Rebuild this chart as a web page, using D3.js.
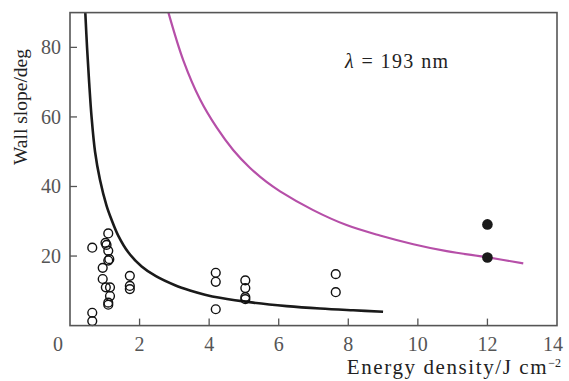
<!DOCTYPE html>
<meta charset="utf-8">
<style>
  body { margin: 0; background: #fff; }
  text { font-family: "Liberation Serif", "DejaVu Serif", serif; }
</style>

<!-- Load d3.js -->
<script src="https://d3js.org/d3.v7.min.js"></script>

<div id="my_dataviz"></div>
<script>

// open circles: energy density (J cm-2) and wall slope (deg)
var openEnergy = [0.64, 0.64, 0.64, 1.10, 1.02, 1.05, 1.10, 1.13, 1.10, 0.94, 0.94, 1.03, 1.15, 1.15, 1.10, 1.10,
                  1.72, 1.72, 1.72, 4.19, 4.19, 4.19, 5.04, 5.04, 5.04, 5.04, 7.64, 7.64];
var openSlope  = [22.4, 3.7, 1.3, 26.5, 23.8, 23.2, 21.5, 19.1, 18.7, 16.6, 13.4, 11.0, 11.0, 8.5, 6.6, 6.0,
                  14.3, 11.4, 10.5, 15.2, 12.6, 4.7, 13.0, 10.8, 8.2, 7.6, 14.8, 9.6];

// filled circles
var filledEnergy = [12, 12];
var filledSlope  = [29.1, 19.6];

// black curve
var blackEnergy = [0.44, 0.49, 0.55, 0.62, 0.72, 0.86, 1.05, 1.20, 1.39, 1.68, 2.06, 2.47, 3.02, 3.45, 3.88, 4.31, 5.27, 6.23, 7.19, 8.14, 9.0];
var blackSlope  = [90, 80, 70, 60, 50, 42, 34.5, 30.3, 25.8, 21.0, 17.0, 14.2, 11.6, 10.1, 8.9, 8.0, 6.6, 5.6, 4.9, 4.4, 4.0];

// magenta curve
var magentaEnergy = [2.83, 3.26, 3.74, 4.22, 4.69, 5.17, 5.65, 6.04, 6.99, 7.95, 8.91, 9.87, 10.83, 12.02, 13.03];
var magentaSlope  = [90, 76.2, 65.0, 56.9, 50.5, 45.4, 41.3, 38.6, 33.2, 28.9, 25.9, 23.4, 21.4, 19.6, 17.9];

var xTicks = [0, 2, 4, 6, 8, 10, 12, 14];
var yTicks = [20, 40, 60, 80];

var width = 569, height = 381;
var plotLeft = 70, plotRight = 557, plotTop = 12.6, plotBottom = 325.6;

var svg = d3.select("#my_dataviz")
  .append("svg")
    .attr("width", width)
    .attr("height", height);

var x = d3.scaleLinear().domain([0, 14]).range([plotLeft, plotRight]);
var y = d3.scaleLinear().domain([0, 90]).range([plotBottom, plotTop]);

var axisColor = "#555";

// ticks pointing inward
svg.selectAll("xt")
  .data(xTicks.filter(function(d){ return d > 0 && d < 14 }))
  .enter()
  .append("line")
    .attr("x1", function(d){ return x(d) })
    .attr("x2", function(d){ return x(d) })
    .attr("y1", plotBottom)
    .attr("y2", plotBottom - 7)
    .attr("stroke", axisColor)
    .attr("stroke-width", 1.3);

svg.selectAll("yt")
  .data(yTicks)
  .enter()
  .append("line")
    .attr("x1", plotLeft)
    .attr("x2", plotLeft + 7)
    .attr("y1", function(d){ return y(d) })
    .attr("y2", function(d){ return y(d) })
    .attr("stroke", axisColor)
    .attr("stroke-width", 1.3);

// tick labels
svg.selectAll("xl")
  .data(xTicks)
  .enter()
  .append("text")
    .attr("x", function(d){ return x(d) + (d == 0 ? -12 : (d == 14 ? -4 : 0)) })
    .attr("y", 351)
    .attr("text-anchor", "middle")
    .attr("font-size", "20px")
    .attr("fill", axisColor)
    .text(function(d){ return d });

svg.selectAll("yl")
  .data(yTicks)
  .enter()
  .append("text")
    .attr("x", 61)
    .attr("y", function(d){ return y(d) + 7 })
    .attr("text-anchor", "end")
    .attr("font-size", "20px")
    .attr("fill", axisColor)
    .text(function(d){ return d });

// curves
var line = d3.line()
  .x(function(d){ return x(d[0]) })
  .y(function(d){ return y(d[1]) })
  .curve(d3.curveCatmullRom.alpha(0.5));

svg.append("path")
  .datum(d3.zip(blackEnergy, blackSlope))
  .attr("d", line)
  .attr("fill", "none")
  .attr("stroke", "#1a1a1a")
  .attr("stroke-width", 2.6);

svg.append("path")
  .datum(d3.zip(magentaEnergy, magentaSlope))
  .attr("d", line)
  .attr("fill", "none")
  .attr("stroke", "#b64fa8")
  .attr("stroke-width", 2.2);

// points
svg.selectAll("open")
  .data(d3.zip(openEnergy, openSlope))
  .enter()
  .append("circle")
    .attr("cx", function(d){ return x(d[0]) })
    .attr("cy", function(d){ return y(d[1]) })
    .attr("r", 4.4)
    .attr("fill", "none")
    .attr("stroke", "#111")
    .attr("stroke-width", 1.4);

svg.selectAll("filled")
  .data(d3.zip(filledEnergy, filledSlope))
  .enter()
  .append("circle")
    .attr("cx", function(d){ return x(d[0]) })
    .attr("cy", function(d){ return y(d[1]) })
    .attr("r", 5.3)
    .attr("fill", "#1a1a1a");

// frame
svg.append("rect")
  .attr("x", plotLeft)
  .attr("y", plotTop)
  .attr("width", plotRight - plotLeft)
  .attr("height", plotBottom - plotTop)
  .attr("fill", "none")
  .attr("stroke", axisColor)
  .attr("stroke-width", 1.6);

// annotation
var lab = svg.append("text")
  .attr("x", 345)
  .attr("y", 68)
  .attr("font-size", "20px")
  .attr("letter-spacing", "1.4px")
  .attr("fill", "#222");
lab.append("tspan").attr("font-style", "italic").text("λ");
lab.append("tspan").text(" = 193 nm");

// axis titles
var xt = svg.append("text")
  .attr("x", 561)
  .attr("y", 374)
  .attr("text-anchor", "end")
  .attr("font-size", "21px")
  .attr("fill", "#222");
xt.append("tspan").attr("letter-spacing", "1.6px").text("Energy density/J cm");
xt.append("tspan").attr("font-size", "12px").attr("dy", -7).text("−2");

svg.append("text")
  .attr("transform", "translate(27,107) rotate(-90)")
  .attr("text-anchor", "middle")
  .attr("font-size", "19.5px")
  .attr("fill", "#222")
  .text("Wall slope/deg");

</script>
